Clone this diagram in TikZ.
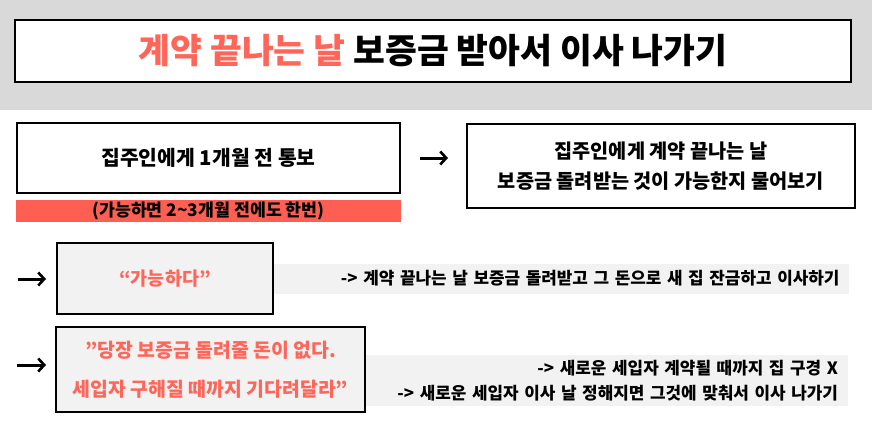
\documentclass[tikz,border=0pt]{standalone}
\usepackage{fontspec}
\setmainfont{Noto Sans CJK KR}
\usetikzlibrary{positioning,arrows.meta}
\definecolor{bandgray}{HTML}{D9D9D9}
\definecolor{boxgray}{HTML}{F2F2F2}
\definecolor{barred}{HTML}{FF5F52}
\definecolor{txtred}{HTML}{FF6659}
\tikzset{
  box/.style={draw,line width=2.5pt,fill=white,align=center,inner sep=0pt,
              font=\bfseries\fontsize{19.7}{30}\selectfont},
  graybox/.style={box,fill=boxgray,text=txtred},
  redbar/.style={fill=barred,inner sep=0pt,font=\bfseries\fontsize{17.3}{20}\selectfont},
  strip/.style={fill=boxgray,align=right,inner xsep=10pt,inner ysep=0pt,
                font=\bfseries\fontsize{16.9}{25}\selectfont},
  nextarrow/.style={-{Straight Barb[length=6pt,width=13pt,line width=2.6pt]},line width=3pt},
}
\begin{document}
\begin{tikzpicture}[x=1pt,y=-1pt]
  \useasboundingbox (0,0) rectangle (872,426);
  % title band
  \fill[bandgray] (0,0) rectangle (872,110);
  \node[box,minimum width=836,minimum height=62,font=\bfseries\fontsize{34.6}{40}\selectfont]
    (title) at (433,51) {{\color{txtred}계약 끝나는 날} 보증금 받아서 이사 나가기};
  % first step
  \node[box,minimum width=383,minimum height=70,font=\bfseries\fontsize{20.4}{30}\selectfont]
    (notice) at (208.5,158) {집주인에게 1개월 전 통보};
  \node[redbar,minimum width=385,minimum height=22,below=6pt of notice] (early) {(가능하면 2\textasciitilde3개월 전에도 한번)};
  \node[box,minimum width=388,minimum height=84] (ask) at (661,166)
    {집주인에게 계약 끝나는 날\\보증금 돌려받는 것이 가능한지 물어보기};
  % answers
  \node[graybox,minimum width=216,minimum height=71,font=\bfseries\fontsize{18.5}{24}\selectfont]
    (yes) at (165,278.5) {“가능하다”};
  \node[strip,text width=555,minimum height=30,right=0pt of yes] (yesnote)
    {-> 계약 끝나는 날 보증금 돌려받고 그 돈으로 새 집 잔금하고 이사하기};
  \node[strip,text width=463,minimum height=51] (waitnote) at (606.5,380.5)
    {-> 새로운 세입자 계약될 때까지 집 구경 X\\-> 새로운 세입자 이사 날 정해지면 그것에 맞춰서 이사 나가기};
  \node[graybox,minimum width=309,minimum height=85,font=\bfseries\fontsize{19.4}{39}\selectfont]
    (wait) at (210.5,369.5) {”당장 보증금 돌려줄 돈이 없다.\\세입자 구해질 때까지 기다려달라”};
  % arrows
  \coordinate (a1s) at (420,158);
  \coordinate (a1e) at (448,158);
  \coordinate (a2s) at (18,279);
  \coordinate (a2e) at (46,279);
  \coordinate (a3s) at (17,365);
  \coordinate (a3e) at (46,365);
  \draw[nextarrow] (a1s) -- (a1e);
  \draw[nextarrow] (a2s) -- (a2e);
  \draw[nextarrow] (a3s) -- (a3e);
\end{tikzpicture}
\end{document}
